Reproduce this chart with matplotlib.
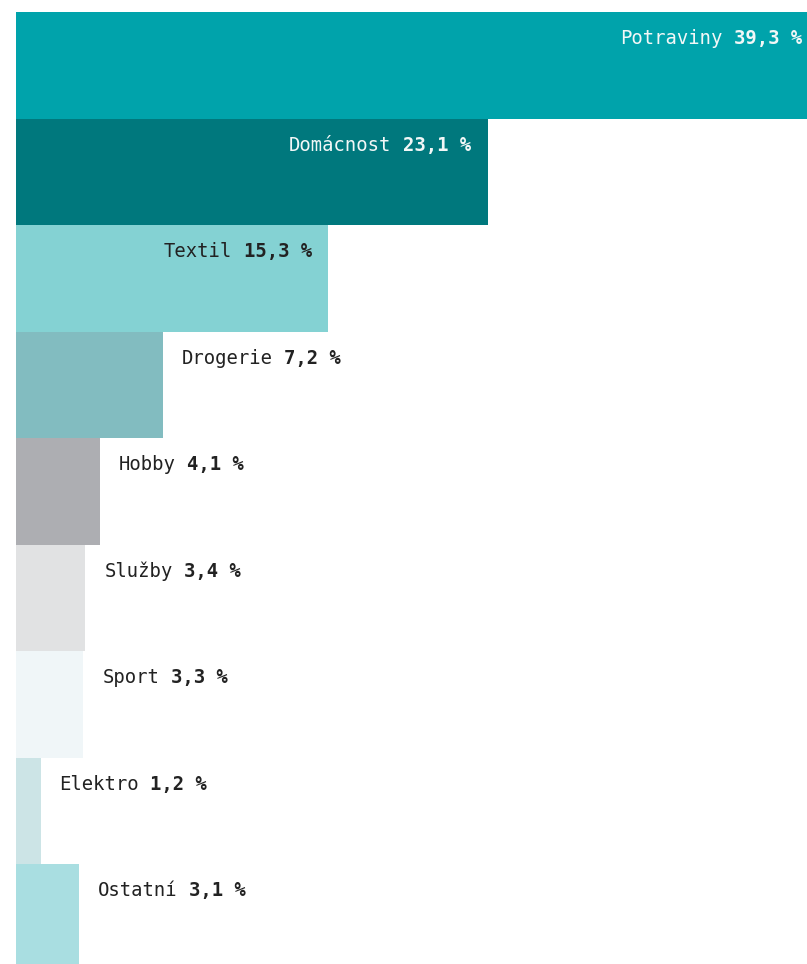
import matplotlib.pyplot as plt
from matplotlib.transforms import offset_copy

categories = ["Potraviny", "Domácnost", "Textil", "Drogerie", "Hobby", "Služby", "Sport", "Elektro", "Ostatní"]
shares = [39.3, 23.1, 15.3, 7.2, 4.1, 3.4, 3.3, 1.2, 3.1]
colors = ["#00A3AB", "#00787D", "#84D2D3", "#82BCC0", "#ADAEB2", "#E1E2E3", "#F0F6F8", "#CCE4E6", "#A9DEE1"]
inside = [True, True, True, False, False, False, False, False, False]
label_colors = ["#F2F7F7", "#F2F7F7", "#222222", "#222222", "#222222", "#222222", "#222222", "#222222", "#222222"]

W, H, DPI = 807, 964, 100
PX_PER_PCT = 20.42
LEFT, TOP, BAND = 16, 12, 106.5
FONT = "DejaVu Sans Mono"
SIZE = 13.6
CHAR_PT = 0.602 * SIZE  # monospace advance in points

fig = plt.figure(figsize=(W / DPI, H / DPI), dpi=DPI)
axes_h = BAND * len(categories)
axes_w = W - LEFT
ax = fig.add_axes([LEFT / W, (H - TOP - axes_h) / H, axes_w / W, axes_h / H])
ax.set_xlim(0, axes_w / PX_PER_PCT)
ax.set_ylim(len(categories) - 0.5, -0.5)
ax.axis("off")

ax.barh(range(len(categories)), shares, height=1.0, color=colors, linewidth=0)

px_pt = 72 / DPI
for i, (name, value) in enumerate(zip(categories, shares)):
    value_str = "{:.1f} %".format(value).replace(".", ",")
    y = i - 0.25
    if inside[i]:
        base = offset_copy(ax.transData, fig=fig, x=-16.5 * px_pt, y=0, units="points")
        ax.text(value, y, value_str, transform=base, ha="right", va="center", family=FONT,
                fontsize=SIZE, fontweight="bold", color=label_colors[i])
        shifted = offset_copy(ax.transData, fig=fig, x=-16.5 * px_pt - (len(value_str) + 1) * CHAR_PT,
                              y=0, units="points")
        ax.text(value, y, name, transform=shifted, ha="right", va="center", family=FONT,
                fontsize=SIZE, color=label_colors[i])
    else:
        base = offset_copy(ax.transData, fig=fig, x=19 * px_pt, y=0, units="points")
        ax.text(value, y, name, transform=base, ha="left", va="center", family=FONT,
                fontsize=SIZE, color=label_colors[i])
        shifted = offset_copy(ax.transData, fig=fig, x=19 * px_pt + (len(name) + 1) * CHAR_PT,
                              y=0, units="points")
        ax.text(value, y, value_str, transform=shifted, ha="left", va="center", family=FONT,
                fontsize=SIZE, fontweight="bold", color=label_colors[i])

fig.savefig("out.png", dpi=DPI)
